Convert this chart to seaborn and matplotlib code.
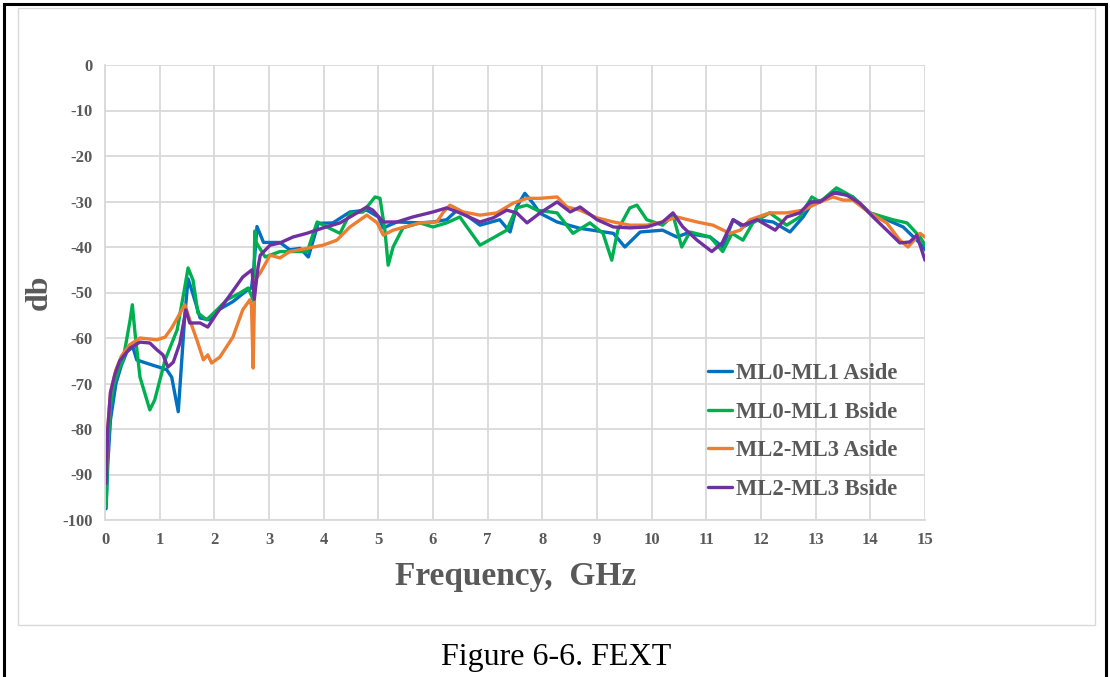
import matplotlib
matplotlib.use("Agg")
import matplotlib.pyplot as plt
import seaborn as sns
import pandas as pd
from matplotlib.lines import Line2D
from matplotlib.patches import Rectangle

series_names = ["ML0-ML1 Aside", "ML0-ML1 Bside", "ML2-ML3 Aside", "ML2-ML3 Bside"]
series_colors = ["#0070C0", "#00B050", "#ED7D31", "#7030A0"]

a1_f = [0.02, 0.05, 0.1, 0.2, 0.3, 0.4, 0.51, 0.58, 0.7, 0.88, 1.04, 1.13, 1.22, 1.34, 1.46, 1.52, 1.6, 1.74, 1.9, 2.05, 2.34, 2.6, 2.68, 2.72, 2.78, 2.9, 3.2, 3.38, 3.57, 3.72, 3.9, 4.17, 4.48, 4.79, 5.0, 5.09, 5.34, 5.76, 6.0, 6.25, 6.45, 6.55, 6.86, 7.22, 7.41, 7.53, 7.68, 7.83, 7.96, 8.27, 8.69, 9.3, 9.51, 9.79, 10.2, 10.46, 10.64, 11.07, 11.3, 11.49, 11.67, 11.93, 12.22, 12.53, 12.77, 12.95, 13.13, 13.38, 13.68, 13.99, 14.3, 14.6, 14.91, 15.0]
a1_db = [-97.5, -88, -78, -70, -66, -63, -62, -64.8, -65.3, -66, -66.6, -67, -68.6, -76.2, -55, -47, -50, -55.6, -56, -54, -52, -49.5, -49, -45, -35.5, -39, -39, -40.6, -40.3, -42.2, -34.8, -34.7, -32.3, -31.9, -33.4, -35.8, -34.5, -34.7, -34.5, -34, -31.8, -32.5, -35.2, -34, -36.7, -31.2, -28.2, -30.4, -32.6, -34.5, -35.9, -37, -40, -36.7, -36.3, -37.8, -37, -37.8, -40, -34, -35.6, -34, -34.5, -36.7, -33.4, -30.1, -29.7, -27.9, -29, -32.5, -34, -35.6, -39.2, -40.6]

b1_f = [0.02, 0.05, 0.1, 0.15, 0.25, 0.33, 0.46, 0.5, 0.55, 0.64, 0.82, 0.91, 1.1, 1.32, 1.46, 1.52, 1.61, 1.7, 1.86, 2.05, 2.23, 2.47, 2.62, 2.69, 2.72, 2.74, 2.76, 2.93, 3.2, 3.53, 3.7, 3.88, 4.06, 4.3, 4.48, 4.72, 4.94, 5.03, 5.12, 5.18, 5.27, 5.45, 5.76, 6.0, 6.25, 6.49, 6.86, 7.1, 7.35, 7.53, 7.72, 7.9, 8.27, 8.56, 8.87, 9.11, 9.27, 9.38, 9.6, 9.73, 9.91, 10.2, 10.39, 10.55, 10.7, 11.07, 11.3, 11.47, 11.67, 11.85, 12.16, 12.47, 12.71, 12.93, 13.08, 13.38, 13.68, 13.99, 14.41, 14.67, 14.91, 15.0]
b1_db = [-97, -85, -75, -70.7, -67, -64.8, -56, -52.7, -59, -68.6, -75.8, -73.6, -64.8, -58.2, -48.8, -44.6, -47.3, -54.5, -56, -53.8, -51.6, -50.1, -49, -51, -52, -36.5, -38.9, -42.2, -41, -41, -41, -34.5, -35.6, -37, -32.6, -32.3, -29, -29.3, -36.3, -44, -40, -35.8, -34.7, -35.6, -34.7, -33.4, -39.6, -38, -36.3, -31.4, -30.8, -31.9, -32.5, -37, -34.7, -37, -42.9, -36.3, -31.4, -30.8, -34, -35.2, -33, -40, -36.7, -37.8, -41, -37, -38.5, -34.7, -32.5, -35.2, -33.4, -29, -30.1, -27, -29, -32.5, -34, -34.7, -37.8, -39.6]

a2_f = [0.02, 0.05, 0.1, 0.2, 0.3, 0.45, 0.64, 0.95, 1.1, 1.22, 1.46, 1.55, 1.68, 1.8, 1.88, 1.95, 2.1, 2.34, 2.52, 2.65, 2.68, 2.71, 2.74, 2.84, 3.02, 3.2, 3.38, 3.69, 3.99, 4.24, 4.48, 4.79, 4.98, 5.09, 5.27, 5.76, 6.07, 6.18, 6.31, 6.55, 6.86, 7.17, 7.46, 7.72, 7.96, 8.27, 8.45, 8.69, 9.0, 9.3, 9.6, 9.91, 10.2, 10.46, 10.83, 11.12, 11.43, 11.62, 11.8, 12.16, 12.47, 12.77, 13.08, 13.32, 13.5, 13.68, 13.99, 14.3, 14.54, 14.69, 14.91, 15.0]
a2_db = [-92, -80, -72, -67, -64, -61.5, -60, -60.4, -59.8, -57.8, -52.7, -56, -60.4, -64.8, -63.7, -65.5, -64.2, -59.8, -53.8, -51.6, -53, -66.6, -47.3, -45.7, -41.8, -42.4, -41, -40.3, -39.6, -38.5, -35.6, -33, -34.7, -37.4, -36.3, -34.7, -34.5, -32.5, -30.8, -32.3, -33, -32.5, -30.4, -29.3, -29.3, -29, -31.2, -31.9, -33.6, -34.5, -35.2, -35.2, -34.5, -33.4, -34.5, -35.2, -37, -36.3, -34, -32.5, -32.5, -31.9, -30.1, -29, -29.7, -29.7, -32.5, -34.7, -38.5, -40, -37, -37.8]

b2_f = [0.02, 0.05, 0.1, 0.18, 0.27, 0.46, 0.64, 0.82, 0.95, 1.06, 1.15, 1.25, 1.37, 1.48, 1.55, 1.74, 1.88, 2.05, 2.29, 2.52, 2.69, 2.73, 2.8, 2.84, 3.02, 3.2, 3.44, 3.69, 3.99, 4.3, 4.54, 4.79, 4.9, 5.09, 5.34, 5.63, 6.0, 6.25, 6.49, 6.86, 7.1, 7.35, 7.53, 7.72, 7.96, 8.27, 8.51, 8.69, 9.0, 9.3, 9.6, 9.91, 10.2, 10.39, 10.57, 10.83, 11.1, 11.29, 11.49, 11.67, 11.93, 12.26, 12.47, 12.71, 12.9, 13.08, 13.32, 13.57, 13.81, 14.05, 14.36, 14.54, 14.72, 14.85, 15.0]
b2_db = [-92, -80, -72, -68, -65, -62.2, -60.9, -61.1, -62.6, -63.7, -66.4, -65.3, -61.1, -53.8, -56.7, -56.7, -57.6, -54.5, -50.5, -46.6, -45, -51.5, -44.4, -41.8, -39.6, -39.1, -37.8, -37, -35.8, -34.7, -33, -31.2, -31.9, -34.5, -34.5, -33.4, -32.3, -31.4, -32.5, -34.5, -33.6, -31.9, -32.5, -34.7, -32.5, -30.1, -32.3, -31.2, -34, -35.6, -35.8, -35.6, -34.5, -32.5, -35.6, -38.5, -41, -39.1, -34, -35.2, -34, -36.3, -33.4, -32.5, -30.1, -30.1, -28.1, -28.6, -30.4, -33.4, -37, -39.1, -38.9, -37.4, -42.9]

x_ticks = list(range(0, 16))
y_ticks = list(range(-100, 1, 10))

frames = []
for name, f, d in zip(series_names, [a1_f, b1_f, a2_f, b2_f], [a1_db, b1_db, a2_db, b2_db]):
    frames.append(pd.DataFrame({"freq": f, "db": d, "series": name}))
df = pd.concat(frames, ignore_index=True)

sns.set_theme(style="whitegrid")
plt.rcParams["font.family"] = ["Liberation Serif", "DejaVu Serif"]

fig = plt.figure(figsize=(11.1, 6.77), dpi=100)
ax = fig.add_axes([105/1110, 1-520/677, (925-105)/1110, (520-65)/677])

sns.lineplot(data=df, x="freq", y="db", hue="series", palette=dict(zip(series_names, series_colors)),
             sort=False, estimator=None, linewidth=2.4, ax=ax, legend=False)
for ln in ax.lines:
    ln.set_solid_joinstyle("round")
    ln.set_solid_capstyle("round")

ax.set_xlim(0, 15)
ax.set_ylim(-100, 0)
ax.set_xticks(x_ticks)
ax.set_yticks(y_ticks)
gray = "#595959"
ax.set_xticklabels([str(t) for t in x_ticks], fontsize=12, fontweight="bold", color=gray)
ax.set_yticklabels([str(t) for t in y_ticks], fontsize=12, fontweight="bold", color=gray)
ax.tick_params(axis="both", length=0, pad=9)
ax.grid(True, color="#d9d9d9", linewidth=1.3)
for s in ["top", "right"]:
    ax.spines[s].set_visible(False)
for s in ["left", "bottom"]:
    ax.spines[s].set_color("#d9d9d9")
    ax.spines[s].set_linewidth(1.3)
ax.set_xlabel("")
ax.set_ylabel("")

fig.text(516/1110, 1-577/677, "Frequency,  GHz", ha="center", va="center",
         fontsize=24, fontweight="bold", color=gray)
fig.text(39/1110, 1-292/677, "db", ha="center", va="center", rotation=90,
         fontsize=23, fontweight="bold", color=gray)
fig.text(556/1110, 1-658/677, "Figure 6-6. FEXT", ha="center", va="center",
         fontsize=23, color="black")

handles = [Line2D([0], [0], color=c, linewidth=2.4) for c in series_colors]
leg = ax.legend(handles, series_names, loc="upper left", bbox_to_anchor=((688-105)/820, 1-(343-65)/455),
                frameon=False, handlelength=1.05, handletextpad=0.18, labelspacing=0.77,
                prop={"family": "Liberation Serif", "weight": "bold", "size": 16.3})
for t in leg.get_texts():
    t.set_color(gray)

fig.patches.append(Rectangle((18/1110, 1-625/677), (1095-18)/1110, (625-8)/677, transform=fig.transFigure,
                             fill=False, edgecolor="#d9d9d9", linewidth=1.0))
fig.patches.append(Rectangle((3.5/1110, -0.05), (1106-3.5)/1110, 1.05-3.5/677, transform=fig.transFigure,
                             fill=False, edgecolor="black", linewidth=2.2))

fig.savefig("out.png", dpi=100)
